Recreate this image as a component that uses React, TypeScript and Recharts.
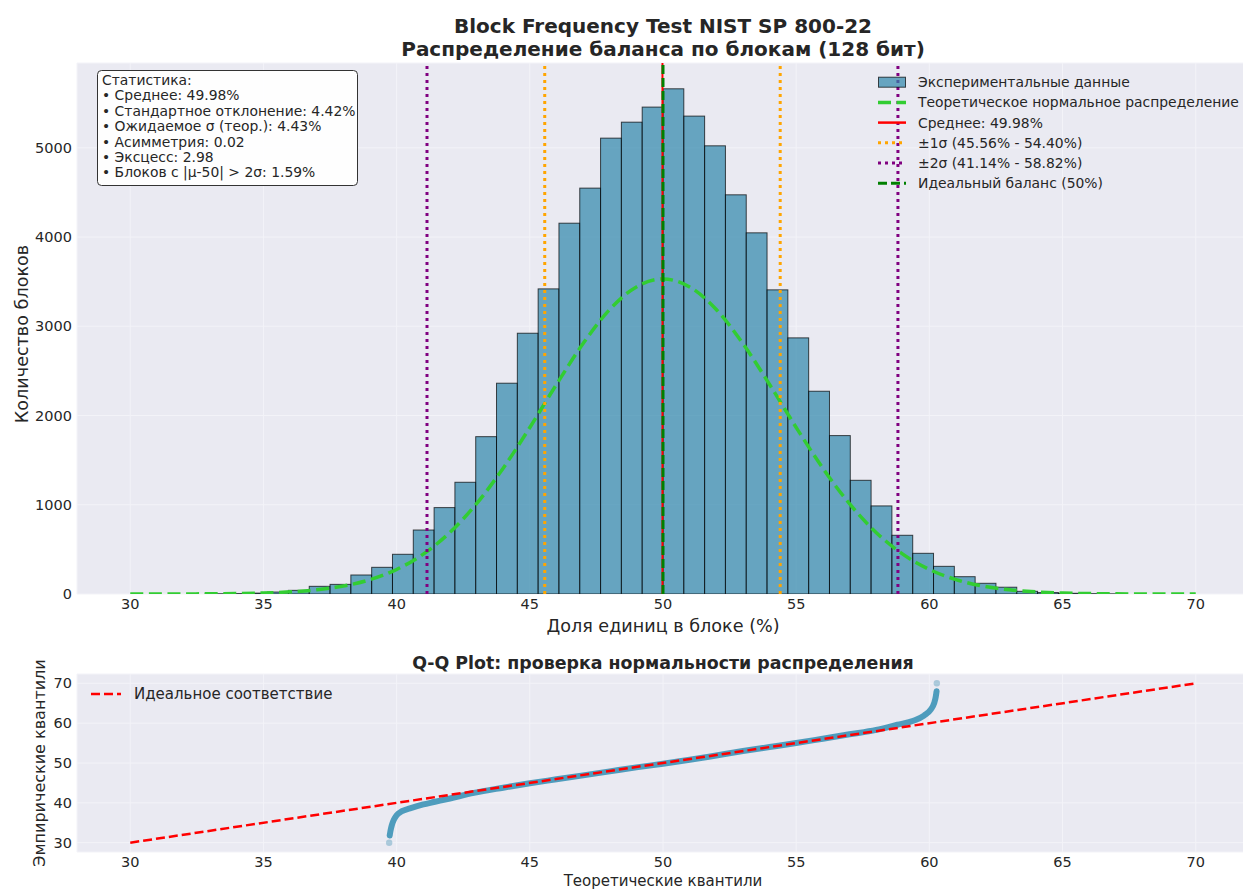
import React from "react";
import {
  ComposedChart,
  Bar,
  Line,
  Scatter,
  XAxis,
  YAxis,
  CartesianGrid,
  ReferenceLine,
} from "recharts";

// histogram: one bin per possible share k/128, starting at k = 42
const firstBinK = 42;
const blockCounts = [
  3, 5, 10, 22, 41, 86, 108, 213, 299, 445, 717, 968, 1252, 1763, 2362, 2922,
  3419, 4155, 4548, 5108, 5287, 5456, 5661, 5355, 5022, 4473, 4047, 3408, 2870,
  2272, 1775, 1274, 987, 658, 456, 310, 194, 120, 76, 30, 16, 8, 4, 2,
];

// theoretical normal curve (read at whole percents)
const theoryX = [
  30, 31, 32, 33, 34, 35, 36, 37, 38, 39, 40, 41, 42, 43, 44, 45, 46, 47, 48,
  49, 50, 51, 52, 53, 54, 55, 56, 57, 58, 59, 60, 61, 62, 63, 64, 65, 66, 67,
  68, 69, 70,
];
const theoryCount = [
  0, 0, 1, 2, 5, 11, 24, 47, 89, 161, 275, 447, 690, 1012, 1410, 1866, 2348,
  2806, 3188, 3441, 3530, 3441, 3188, 2806, 2348, 1866, 1410, 1012, 690, 447,
  275, 161, 89, 47, 24, 11, 5, 2, 1, 0, 0,
];

const meanShare = 49.98;
const sigma1 = [45.56, 54.4];
const sigma2 = [41.14, 58.82];
const idealShare = 50;

const xTicks = [30, 35, 40, 45, 50, 55, 60, 65, 70];
const countTicks = [0, 1000, 2000, 3000, 4000, 5000];
const qqYTicks = [30, 40, 50, 60, 70];

// Q-Q plot
const qqTheory = [
  39.74, 39.77, 39.82, 39.9, 40.0, 40.2, 40.5, 41.0, 41.4, 42.0, 42.9, 44.0,
  45.0, 46.0, 47.0, 48.0, 49.0, 50.0, 51.0, 52.0, 53.0, 54.0, 55.0, 56.0, 57.0,
  58.0, 58.8, 59.4, 59.8, 60.05, 60.18, 60.24, 60.27,
];
const qqEmpirical = [
  31.8, 33.0, 34.4, 35.8, 36.9, 37.9, 38.6, 39.6, 40.2, 41.1, 42.5, 43.8, 44.9,
  45.9, 46.9, 47.9, 48.9, 49.8, 50.8, 51.9, 53.0, 54.0, 55.0, 56.1, 57.2, 58.3,
  59.6, 60.6, 61.9, 63.4, 65.0, 66.6, 68.0,
];
const qqEndTheory = [39.72, 60.28];
const qqEndEmpirical = [30.0, 70.0];
const idealX = [30, 70];

const statLines = [
  "Статистика:",
  "• Среднее: 49.98%",
  "• Стандартное отклонение: 4.42%",
  "• Ожидаемое σ (теор.): 4.43%",
  "• Асимметрия: 0.02",
  "• Эксцесс: 2.98",
  "• Блоков с |μ-50| > 2σ: 1.59%",
];

const histData = blockCounts.map((count, i) => ({
  x: ((firstBinK + i + 0.5) * 100) / 128,
  count,
}));
const theoryData = theoryX.map((x, i) => ({ x, y: theoryCount[i] }));
const qqData = qqTheory.map((x, i) => ({ x, y: qqEmpirical[i] }));
const qqEnds = qqEndTheory.map((x, i) => ({ x, y: qqEndEmpirical[i] }));
const idealData = idealX.map((x) => ({ x, y: x }));

const FONT = "DejaVu Sans";
const TEXT = "#262626";
const BG = "#EAEAF2";
const GRID = "#F3F3F8";

// plot is 1172px wide for 44 units, one bin is 100/128 units
const BIN_PX = (1172 / 44) * (100 / 128);

const tickStyle = { fill: TEXT, fontSize: 14.5, fontFamily: FONT };

const legendRows = [
  { label: "Экспериментальные данные", kind: "patch" },
  { label: "Теоретическое нормальное распределение", kind: "line", color: "#32CD32", w: 3.5, dash: "13 5.6" },
  { label: "Среднее: 49.98%", kind: "line", color: "#FF0000", w: 2.5 },
  { label: "±1σ (45.56% - 54.40%)", kind: "line", color: "#FFA500", w: 3, dash: "3 4" },
  { label: "±2σ (41.14% - 58.82%)", kind: "line", color: "#800080", w: 3, dash: "3 4" },
  { label: "Идеальный баланс (50%)", kind: "line", color: "#008000", w: 3, dash: "9 4" },
];

const HistBar = (p: any) => {
  if (!p.height) return null;
  const cx = p.x + p.width / 2;
  return (
    <rect
      x={cx - BIN_PX / 2}
      y={p.y}
      width={BIN_PX}
      height={p.height}
      fill="#2E86AB"
      fillOpacity={0.7}
      stroke="#000"
      strokeOpacity={0.7}
      strokeWidth={1}
    />
  );
};

const Overlay = () => (
  <svg
    width={1243}
    height={891}
    style={{ position: "absolute", left: 0, top: 0, pointerEvents: "none" }}
    fontFamily={FONT}
  >
    <text x={663} y={33} textAnchor="middle" fontSize={20} fontWeight="bold" fill={TEXT}>
      Block Frequency Test NIST SP 800-22
    </text>
    <text x={663} y={55.5} textAnchor="middle" fontSize={20} fontWeight="bold" fill={TEXT}>
      Распределение баланса по блокам (128 бит)
    </text>
    <text
      x={28}
      y={334}
      transform="rotate(-90 28 334)"
      textAnchor="middle"
      fontSize={17.6}
      fill={TEXT}
    >
      Количество блоков
    </text>
    <text x={663} y={632} textAnchor="middle" fontSize={17.6} fill={TEXT}>
      Доля единиц в блоке (%)
    </text>

    {/* stats box */}
    <rect x={97.5} y={70.5} width={260} height={115} rx={4} fill="#fff" fillOpacity={0.92} stroke="#333" strokeWidth={1} />
    {statLines.map((s, i) => (
      <text key={s} x={102} y={85 + i * 15.4} fontSize={13.9} fill={TEXT}>
        {s}
      </text>
    ))}

    {/* legend */}
    {legendRows.map((r, i) => {
      const cy = 82.2 + i * 20.2;
      return (
        <g key={r.label}>
          {r.kind === "patch" ? (
            <rect x={878.5} y={cy - 5} width={27} height={10} fill="#2E86AB" fillOpacity={0.7} stroke="#000" strokeOpacity={0.7} strokeWidth={1} />
          ) : (
            <line x1={878} x2={906} y1={cy} y2={cy} stroke={r.color} strokeWidth={r.w} strokeDasharray={r.dash} />
          )}
          <text x={918} y={cy + 5} fontSize={13.9} fill={TEXT}>
            {r.label}
          </text>
        </g>
      );
    })}

    {/* Q-Q texts */}
    <text x={663} y={668.5} textAnchor="middle" fontSize={17.4} fontWeight="bold" fill={TEXT}>
      Q-Q Plot: проверка нормальности распределения
    </text>
    <text
      x={45}
      y={763}
      transform="rotate(-90 45 763)"
      textAnchor="middle"
      fontSize={16}
      fill={TEXT}
    >
      Эмпирические квантили
    </text>
    <text x={663} y={886} textAnchor="middle" fontSize={15} fill={TEXT}>
      Теоретические квантили
    </text>
    <line x1={91} x2={121} y1={694} y2={694} stroke="#FF0000" strokeWidth={2.5} strokeDasharray="9 4" />
    <text x={134} y={699} fontSize={15} fill={TEXT}>
      Идеальное соответствие
    </text>
  </svg>
);

const App = () => {
  return (
    <div
      style={{
        position: "absolute",
        left: 0,
        top: 0,
        width: 1243,
        height: 891,
        overflow: "hidden",
        background: "#fff",
      }}
    >
      <div style={{ position: "absolute", left: 0, top: 0 }}>
        <ComposedChart
          width={1260}
          height={640}
          data={histData}
          margin={{ top: 63, right: 11, bottom: 16, left: 17 }}
        >
          <CartesianGrid fill={BG} stroke={GRID} strokeWidth={1} />
          <XAxis
            type="number"
            dataKey="x"
            domain={[28, 72]}
            ticks={xTicks}
            allowDataOverflow
            axisLine={false}
            tickLine={false}
            tickSize={0}
            tickMargin={5}
            height={30}
            tick={tickStyle}
          />
          <YAxis
            type="number"
            domain={[0, 5950]}
            ticks={countTicks}
            allowDataOverflow
            axisLine={false}
            tickLine={false}
            tickSize={0}
            tickMargin={5}
            width={60}
            tick={tickStyle}
          />
          <Bar
            dataKey="count"
            shape={HistBar}
            isAnimationActive={false}
          />
          <Line
            data={theoryData}
            dataKey="y"
            type="monotone"
            stroke="#32CD32"
            strokeWidth={3.5}
            strokeDasharray="13 5.6"
            dot={false}
            activeDot={false}
            isAnimationActive={false}
          />
          <ReferenceLine x={meanShare} stroke="#FF0000" strokeWidth={2} />
          {sigma1.map((v) => (
            <ReferenceLine key={`s1-${v}`} x={v} stroke="#FFA500" strokeWidth={3} strokeDasharray="3 4" />
          ))}
          {sigma2.map((v) => (
            <ReferenceLine key={`s2-${v}`} x={v} stroke="#800080" strokeWidth={3} strokeDasharray="3 4" />
          ))}
          <ReferenceLine x={idealShare} stroke="#008000" strokeWidth={3} strokeDasharray="9 4" />
        </ComposedChart>
      </div>

      <div style={{ position: "absolute", left: 0, top: 640 }}>
        <ComposedChart
          width={1260}
          height={251}
          margin={{ top: 34, right: 11, bottom: 9, left: 17 }}
        >
          <CartesianGrid fill={BG} stroke={GRID} strokeWidth={1} />
          <XAxis
            type="number"
            dataKey="x"
            domain={[28, 72]}
            ticks={xTicks}
            allowDataOverflow
            axisLine={false}
            tickLine={false}
            tickSize={0}
            tickMargin={5}
            height={30}
            tick={tickStyle}
          />
          <YAxis
            type="number"
            dataKey="y"
            domain={[27.66, 72.34]}
            ticks={qqYTicks}
            allowDataOverflow
            axisLine={false}
            tickLine={false}
            tickSize={0}
            tickMargin={5}
            width={60}
            tick={tickStyle}
          />
          <Line
            data={qqData}
            dataKey="y"
            type="monotone"
            stroke="#3D93B7"
            strokeOpacity={0.9}
            strokeWidth={6}
            strokeLinecap="round"
            dot={false}
            activeDot={false}
            isAnimationActive={false}
          />
          <Scatter
            data={qqEnds}
            shape={(p: any) => <circle cx={p.cx} cy={p.cy} r={3.2} fill="#2E86AB" fillOpacity={0.35} />}
            isAnimationActive={false}
          />
          <Line
            data={idealData}
            dataKey="y"
            type="linear"
            stroke="#FF0000"
            strokeWidth={2.5}
            strokeDasharray="9 4"
            dot={false}
            activeDot={false}
            isAnimationActive={false}
          />
        </ComposedChart>
      </div>

      <Overlay />
    </div>
  );
};

export default App;
